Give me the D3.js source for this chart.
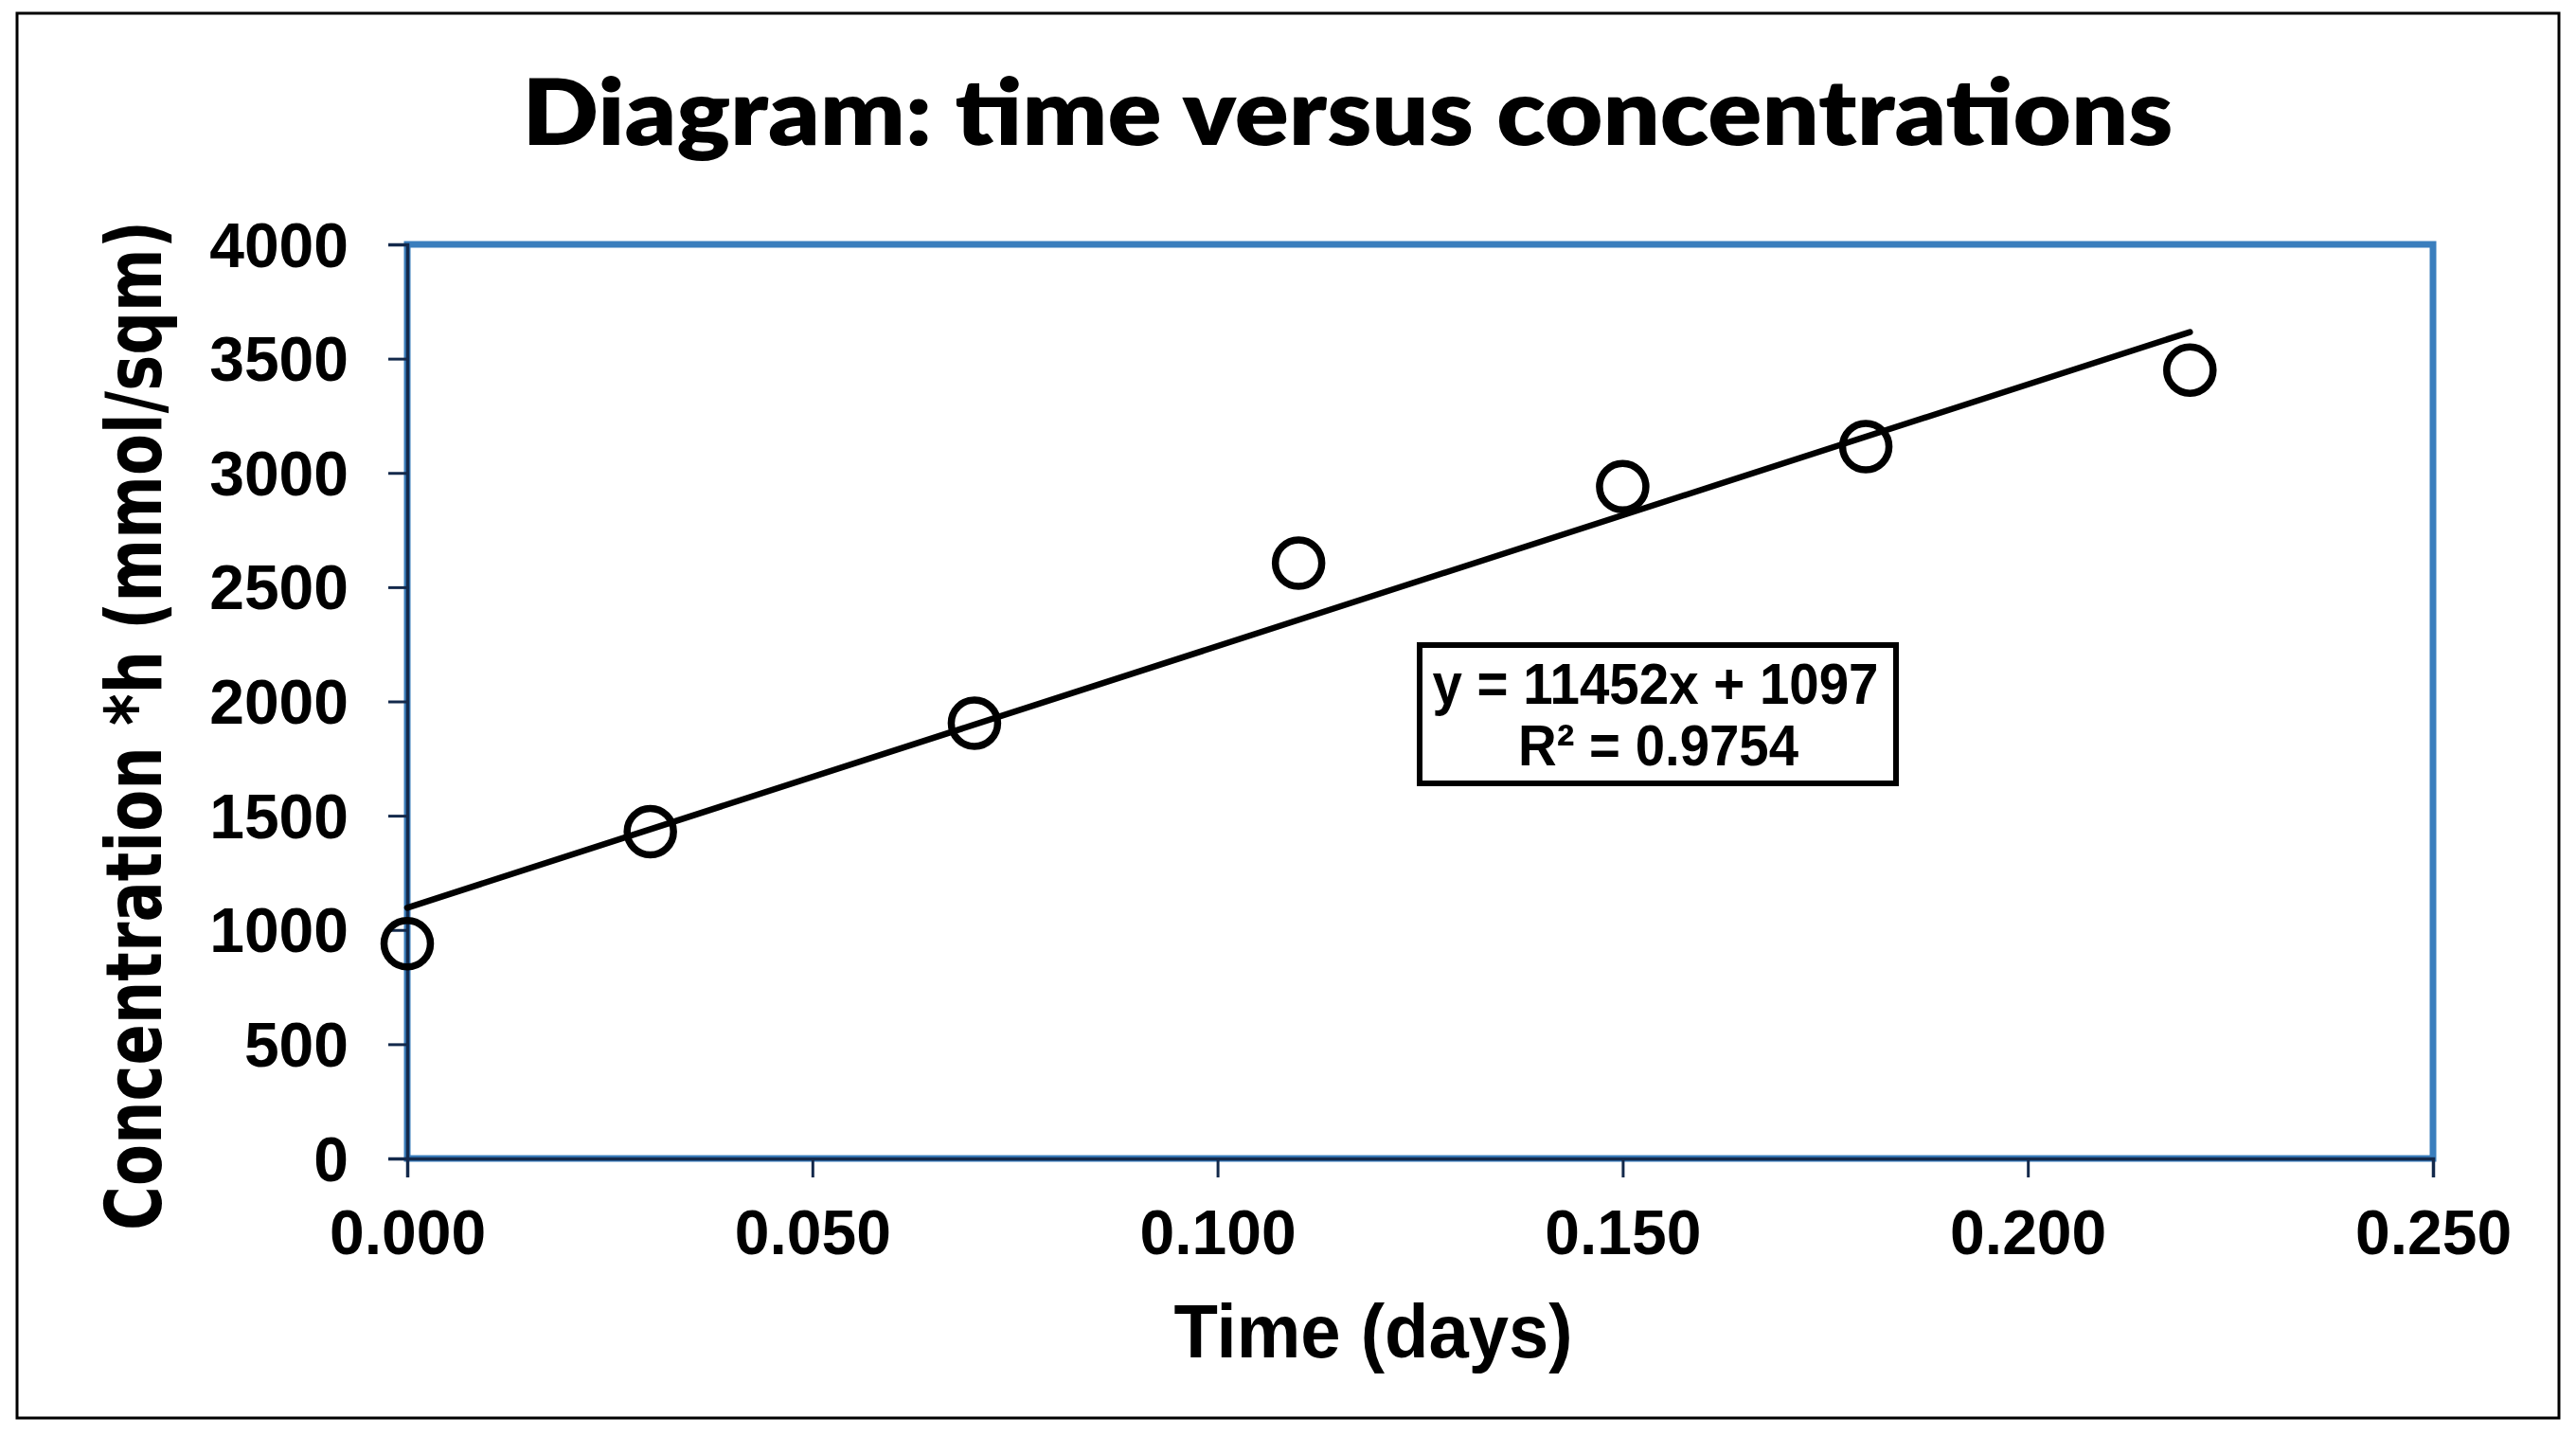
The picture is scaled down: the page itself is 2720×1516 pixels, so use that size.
<!DOCTYPE html>
<html>
<head>
<meta charset="utf-8">
<script src="https://cdn.jsdelivr.net/npm/d3@7"></script>
<style>
  html, body { margin: 0; padding: 0; background: #fff; }
  svg { display: block; }
</style>
</head>
<body>
<svg id="chart" width="2720" height="1516"></svg>
<script>
// ---- data ----
const times = [0, 0.03, 0.07, 0.11, 0.15, 0.18, 0.22];
const concentrations = [940, 1430, 1905, 2605, 2940, 3115, 3450];
const xTicks = [0, 0.05, 0.10, 0.15, 0.20, 0.25];
const yTicks = [0, 500, 1000, 1500, 2000, 2500, 3000, 3500, 4000];
const trendSlope = 11452;
const trendIntercept = 1097;
const trendRange = [0, 0.22];
const titleText = "Diagram: time versus concentrations";
const xLabel = "Time (days)";
const yLabel = "Concentration *h (mmol/sqm)";
const eqLines = ["y = 11452x + 1097", "R² = 0.9754"];

// ---- layout ----
const svg = d3.select("#chart");
const plot = { left: 430, right: 2569, top: 258, bottom: 1223 };

const x = d3.scaleLinear().domain([0, 0.25]).range([plot.left, plot.right]);
const y = d3.scaleLinear().domain([0, 4000]).range([plot.bottom, plot.top]);

// outer frame
svg.append("rect").attr("x", 18).attr("y", 14).attr("width", 2684).attr("height", 1483)
  .attr("fill", "#fff").attr("stroke", "#000").attr("stroke-width", 3);

// title
svg.append("text").attr("x", 1423).attr("y", 153).attr("text-anchor", "middle")
  .attr("font-family", "Lato, 'Open Sans', sans-serif").attr("font-weight", 800)
  .attr("font-size", 97).attr("textLength", 1743).attr("lengthAdjust", "spacingAndGlyphs")
  .attr("fill", "#000").text(titleText);

// plot border (blue)
svg.append("rect").attr("x", plot.left).attr("y", plot.top)
  .attr("width", plot.right - plot.left).attr("height", plot.bottom - plot.top)
  .attr("fill", "none").attr("stroke", "#3A7EBD").attr("stroke-width", 7);

// axes
const axisColor = "#13294B";
const xAxis = d3.axisBottom(x).tickValues(xTicks).tickSize(20).tickFormat(d3.format(".3f"));
const gx = svg.append("g").attr("transform", `translate(0,${plot.bottom})`).call(xAxis);
gx.select(".domain").attr("stroke", axisColor).attr("stroke-width", 3.5);
gx.selectAll(".tick line").attr("stroke", axisColor).attr("stroke-width", 3);
gx.selectAll(".tick text").attr("font-family", "'Liberation Sans', Arial, sans-serif")
  .attr("font-weight", 700).attr("font-size", 66).attr("fill", "#000")
  .attr("dy", null).attr("y", 101);

const yAxis = d3.axisLeft(y).tickValues(yTicks).tickSize(20).tickFormat(d3.format("d"));
const gy = svg.append("g").attr("transform", `translate(${plot.left},0)`).call(yAxis);
gy.select(".domain").attr("stroke", axisColor).attr("stroke-width", 3.5);
gy.selectAll(".tick line").attr("stroke", axisColor).attr("stroke-width", 3);
gy.selectAll(".tick text").attr("font-family", "'Liberation Sans', Arial, sans-serif")
  .attr("font-weight", 700).attr("font-size", 66).attr("fill", "#000")
  .attr("dy", null).attr("x", -62).attr("y", 23);

// axis titles
svg.append("text").attr("x", 1450).attr("y", 1433).attr("text-anchor", "middle")
  .attr("font-family", "'Liberation Sans', Arial, sans-serif").attr("font-weight", 700)
  .attr("font-size", 80).attr("textLength", 421).attr("lengthAdjust", "spacingAndGlyphs")
  .attr("fill", "#000").text(xLabel);

svg.append("text").attr("transform", "translate(170,766) rotate(-90) scale(1,1.27)")
  .attr("text-anchor", "middle")
  .attr("font-family", "'DejaVu Sans', Verdana, sans-serif").attr("font-weight", 700)
  .attr("font-size", 64)
  .attr("fill", "#000").text(yLabel);

// trendline
svg.append("line")
  .attr("x1", x(trendRange[0])).attr("y1", y(trendIntercept + trendSlope * trendRange[0]))
  .attr("x2", x(trendRange[1])).attr("y2", y(trendIntercept + trendSlope * trendRange[1]))
  .attr("stroke", "#000").attr("stroke-width", 6.5).attr("stroke-linecap", "round");

// markers
const pts = times.map((t, i) => ({ t, c: concentrations[i] }));
svg.append("g").selectAll("circle").data(pts).join("circle")
  .attr("cx", d => x(d.t)).attr("cy", d => y(d.c)).attr("r", 24.5)
  .attr("fill", "none").attr("stroke", "#000").attr("stroke-width", 7.5);

// equation box
svg.append("rect").attr("x", 1499).attr("y", 681).attr("width", 503).attr("height", 146)
  .attr("fill", "#fff").attr("stroke", "#000").attr("stroke-width", 6);
const eqFont = "'Liberation Sans Narrow', 'Liberation Sans', Arial, sans-serif";
svg.append("text").attr("x", 1748).attr("y", 743).attr("text-anchor", "middle")
  .attr("font-family", eqFont).attr("font-weight", 700).attr("font-size", 61)
  .attr("textLength", 471).attr("lengthAdjust", "spacingAndGlyphs").text(eqLines[0]);
svg.append("text").attr("x", 1751).attr("y", 808).attr("text-anchor", "middle")
  .attr("font-family", eqFont).attr("font-weight", 700).attr("font-size", 61)
  .attr("textLength", 296).attr("lengthAdjust", "spacingAndGlyphs").text(eqLines[1]);
</script>
</body>
</html>
